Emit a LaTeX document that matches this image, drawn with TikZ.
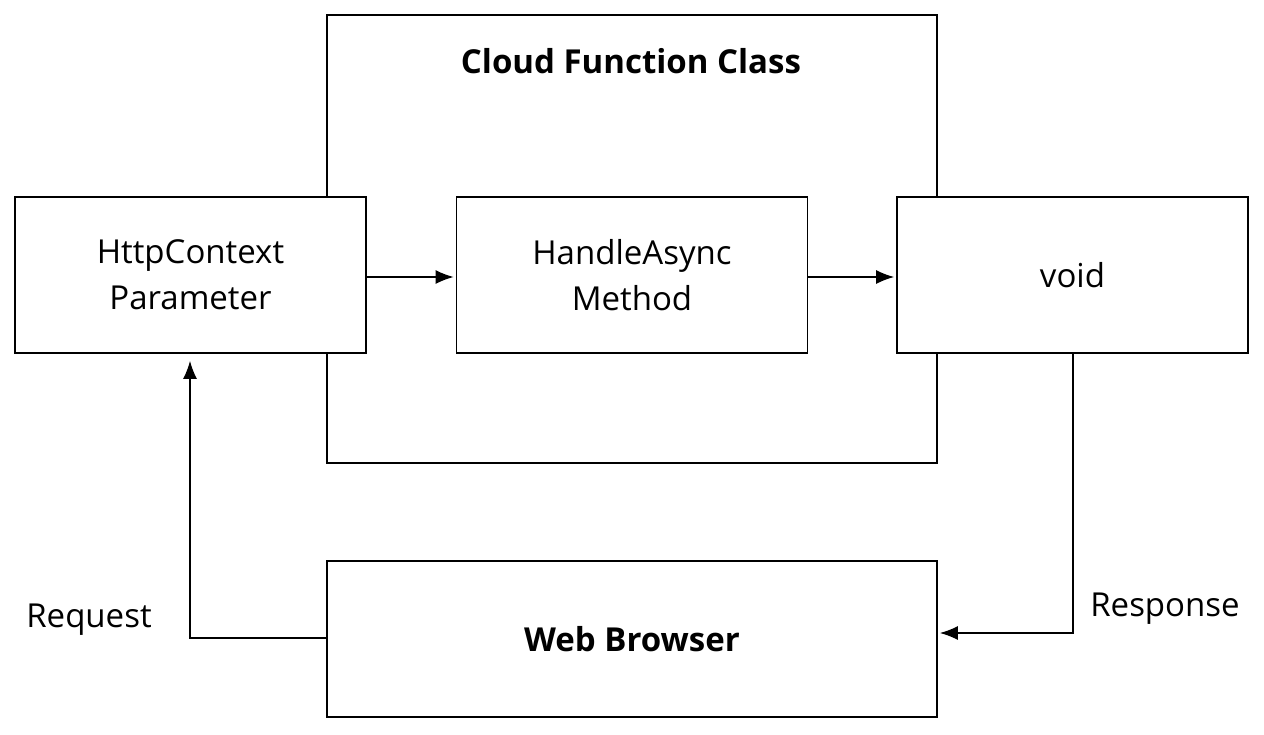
\documentclass[tikz,border=0pt]{standalone}
\usepackage{fontspec}
\setmainfont{Open Sans}
\usetikzlibrary{arrows.meta}
\begin{document}
\begin{tikzpicture}[x=1pt,y=-1pt,
  box/.style={draw,line width=1.6pt,fill=white,minimum width=351pt,minimum height=156pt,align=center,font=\fontsize{33}{46}\selectfont,inner sep=0pt},
  conn/.style={line width=1.6pt,-{Latex[length=18pt,width=14pt]},shorten >=2pt},
  lbl/.style={font=\fontsize{33}{46}\selectfont,inner sep=0pt}]
\useasboundingbox (0,0) rectangle (1264,734);
\node[draw,line width=1.6pt,minimum width=610pt,minimum height=448pt,inner sep=0pt] (cls) at (632,239) {};
\node[font=\bfseries\fontsize{33}{46}\selectfont,inner sep=0pt] (title) at (631,61) {Cloud Function Class};
\node[box] (http) at (190.5,275) {HttpContext\\Parameter};
\node[box] (handle) at (632,275) {HandleAsync\\Method};
\node[box] (void) at (1072.5,275) {void};
\node[box,minimum width=610pt,font=\bfseries\fontsize{33}{46}\selectfont] (web) at (632,639) {Web Browser};
\draw[conn] (http.east |- 0,277) -- (handle.west |- 0,277);
\draw[conn] (handle.east |- 0,277) -- (void.west |- 0,277);
\coordinate (rq) at (190,638);
\draw[conn,shorten >=7pt] (web.west |- rq) -- (rq) -- (http.south -| rq);
\coordinate (rs) at (1073,633);
\draw[conn] (void.south -| rs) -- (rs) -- (web.east |- rs);
\node[lbl] (req) at (89,620) {Request};
\node[lbl] (resp) at (1165,609) {Response};
\end{tikzpicture}
\end{document}
